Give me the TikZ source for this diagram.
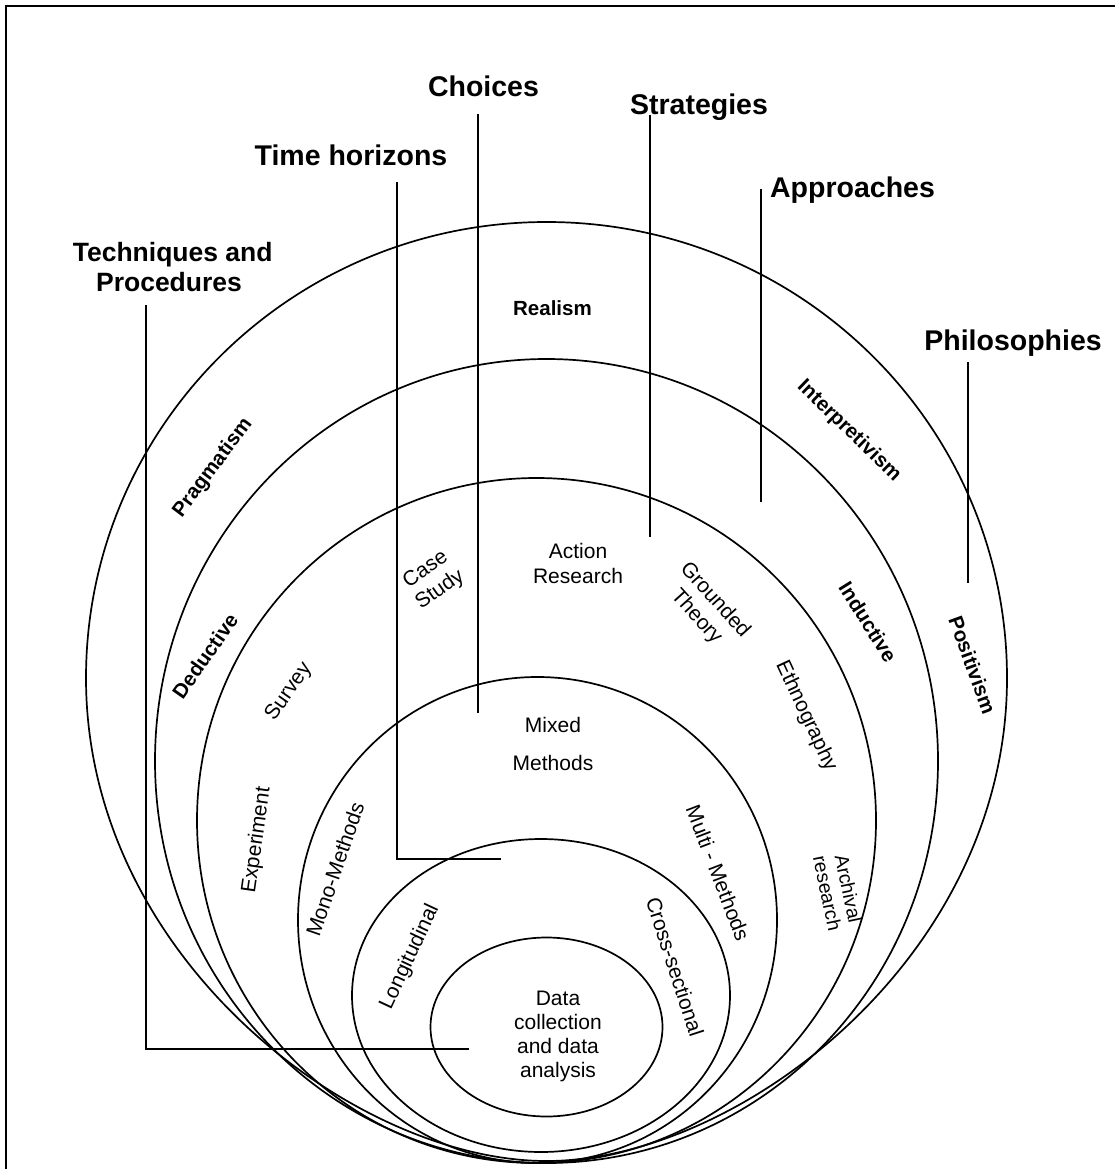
\documentclass[tikz,border=0pt]{standalone}
\usepackage{fontspec}
\setmainfont{Liberation Sans}
\usetikzlibrary{shapes.geometric}
\begin{document}
\begin{tikzpicture}[x=1pt,y=-1pt,
  ring/.style={draw, ellipse, line width=1.7pt, inner sep=0pt, outer sep=0pt},
  shell/.style={line width=1.7pt},
  leader/.style={line width=1.7pt},
  heading/.style={font=\bfseries\fontsize{28.5}{30}\selectfont, inner sep=0pt, anchor=base},
  layerb/.style={font=\bfseries\fontsize{20.5}{24}\selectfont, inner sep=0pt},
  layer/.style={font=\fontsize{21}{25}\selectfont, inner sep=0pt, align=center},
]
\useasboundingbox (0,0) rectangle (1114,1169);
% frame (top and left edges)
\draw[line width=2pt] (1116,6) -- (6,6) -- (6,1172);

% outermost layer: egg shaped, rounder on top, pointed at the bottom
\coordinate (philo-w) at (86,678);
\coordinate (philo-n) at (546.5,222);
\coordinate (philo-e) at (1007,678);
\coordinate (philo-s) at (546.5,1161);
\draw[shell] (philo-w) .. controls (86,426.2) and (292.2,222) .. (philo-n)
  .. controls (800.8,222) and (1007,426.2) .. (philo-e)
  .. controls (1007,958) and (738,1161) .. (philo-s)
  .. controls (355,1161) and (86,958) .. (philo-w) -- cycle;

% inner layers
\node[ring, minimum width=783pt, minimum height=804pt] (appr)  at (546.5,761) {};
\node[ring, minimum width=679pt, minimum height=685pt] (strat) at (536.5,820.5) {};
\node[ring, minimum width=479pt, minimum height=486pt] (choic) at (537.5,920) {};
\node[ring, minimum width=378pt, minimum height=313pt] (time)  at (541,995.5) {};
\node[ring, minimum width=232pt, minimum height=179pt] (core)  at (546.5,1027) {};

% headings
\node[heading] (choices)      at (483.5,97)  {Choices};
\node[heading] (strategies)   at (699,114.5) {Strategies};
\node[heading] (timeh)        at (351,166)   {Time horizons};
\node[heading] (approaches)   at (852.5,197) {Approaches};
\node[heading, font=\bfseries\fontsize{26.5}{30}\selectfont] (tp1) at (172.7,261) {Techniques and};
\node[heading, font=\bfseries\fontsize{26.5}{30}\selectfont] (tp2) at (169,291)   {Procedures};
\node[heading] (philosophies) at (1013,350)  {Philosophies};

% leader lines
\coordinate (tp-top) at (146,305);  \coordinate (tp-end) at (469,1049);
\coordinate (th-top) at (397,182);  \coordinate (th-end) at (501,859);
\coordinate (ch-top) at (478,114);  \coordinate (ch-end) at (478,713);
\coordinate (st-top) at (650,115);  \coordinate (st-end) at (650,537);
\coordinate (ap-top) at (761,189);  \coordinate (ap-end) at (761,502);
\coordinate (ph-top) at (968,362);  \coordinate (ph-end) at (968,583);
\draw[leader] (tp-top) |- (tp-end);
\draw[leader] (th-top) |- (th-end);
\draw[leader] (ch-top) -- (ch-end);
\draw[leader] (st-top) -- (st-end);
\draw[leader] (ap-top) -- (ap-end);
\draw[leader] (ph-top) -- (ph-end);

% philosophies
\node[layerb, anchor=base] (realism) at (552.5,315) {Realism};
\node[layerb, rotate=53]  (pragm)  at (213,468) {Pragmatism};
\node[layerb, rotate=-44] (interp) at (849,431) {Interpretivism};
\node[layerb, rotate=-70] (posit)  at (972.5,665) {Positivism};
% approaches
\node[layerb, rotate=55]  (deduct) at (205,656) {Deductive};
\node[layerb, rotate=-58] (induct) at (868,622) {Inductive};
% strategies
\node[layer, rotate=35]  (case)   at (433,580) {Case\\Study};
\node[layer]             (action) at (578,563.5) {Action\\Research};
\node[layer, rotate=-48] (ground) at (705.5,608.5) {Grounded\\Theory};
\node[layer, rotate=-65] (ethno)  at (806,716) {Ethnography};
\node[layer, rotate=55]  (survey) at (289,692) {Survey};
\node[layer, rotate=82]  (exper)  at (257,840) {Experiment};
\node[layer, rotate=-78, font=\fontsize{19.5}{21.5}\selectfont] (archiv) at (838,891) {Archival\\research};
% choices
\node[layer, font=\fontsize{21}{38}\selectfont] (mixed) at (553,744) {Mixed\\Methods};
\node[layer, rotate=71]  (mono)  at (335,869) {Mono-Methods};
\node[layer, rotate=-69] (multi) at (718,873) {Multi - Methods};
% time horizons
\node[layer, rotate=65]  (longit) at (410,957) {Longitudinal};
\node[layer, rotate=-72] (cross)  at (675,967) {Cross-sectional};
% techniques and procedures
\node[layer, font=\fontsize{21}{24}\selectfont] (data) at (558,1036) {Data\\collection\\and data\\analysis};
\end{tikzpicture}
\end{document}
